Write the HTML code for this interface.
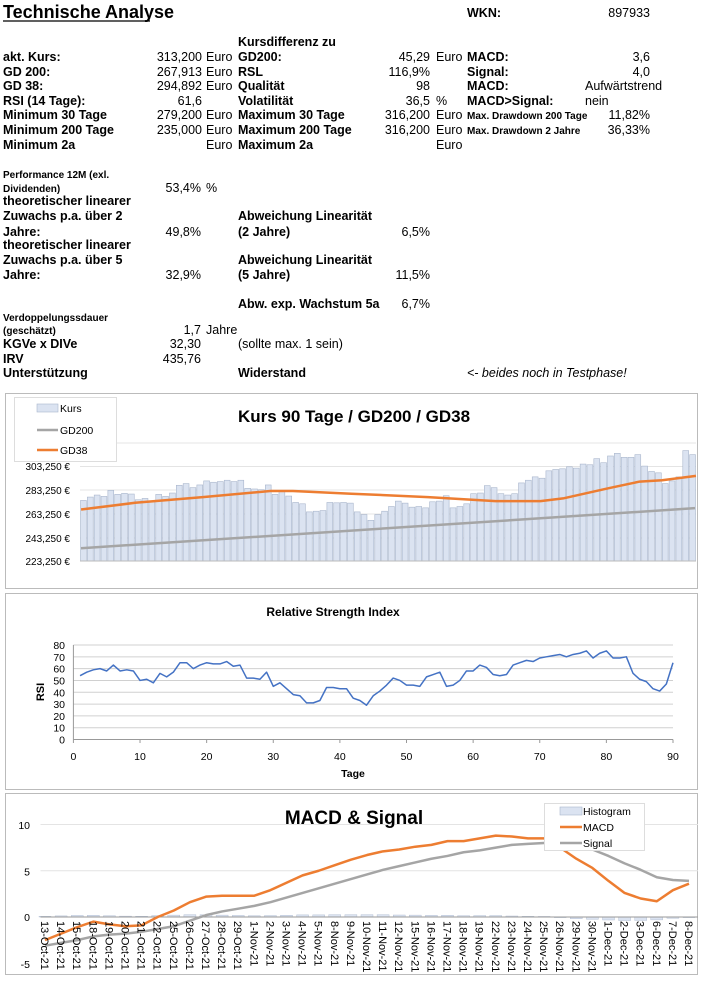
<!DOCTYPE html>
<html><head><meta charset="utf-8"><style>
html,body{margin:0;padding:0;background:#fff;}
svg{display:block;}
.t{font-family:"Liberation Sans Narrow","Liberation Sans",sans-serif;font-weight:bold;font-size:12.5px;fill:#000;}
.n{font-family:"Liberation Sans Narrow","Liberation Sans",sans-serif;font-size:12.5px;fill:#000;}
.s{font-family:"Liberation Sans Narrow","Liberation Sans",sans-serif;font-weight:bold;font-size:10px;fill:#000;}
.c{font-family:"Liberation Sans",sans-serif;font-size:10.5px;fill:#000;}
</style></head><body>
<svg id="g" width="706" height="998" xmlns="http://www.w3.org/2000/svg">
<text x="3" y="18" class="t" style="font-size:18px">Technische Analyse</text>
<line x1="3" y1="21" x2="150" y2="21" stroke="#000" stroke-width="1.3"/>
<text x="467" y="17" class="t">WKN:</text><text x="650" y="17" class="n" text-anchor="end">897933</text>
<text x="238" y="46" class="t">Kursdifferenz zu</text>
<g id="rows"></g>
<text x="3" y="178" class="s">Performance 12M (exl.</text>
<text x="3" y="192" class="s">Dividenden)</text><text x="201" y="192" class="n" text-anchor="end">53,4%</text><text x="206" y="192" class="n">%</text>
<text x="3" y="205" class="t">theoretischer linearer</text>
<text x="3" y="220" class="t">Zuwachs p.a. über 2</text><text x="238" y="220" class="t">Abweichung Linearität</text>
<text x="3" y="236" class="t">Jahre:</text><text x="201" y="236" class="n" text-anchor="end">49,8%</text><text x="238" y="236" class="t">(2 Jahre)</text><text x="430" y="236" class="n" text-anchor="end">6,5%</text>
<text x="3" y="249" class="t">theoretischer linearer</text>
<text x="3" y="264" class="t">Zuwachs p.a. über 5</text><text x="238" y="264" class="t">Abweichung Linearität</text>
<text x="3" y="279" class="t">Jahre:</text><text x="201" y="279" class="n" text-anchor="end">32,9%</text><text x="238" y="279" class="t">(5 Jahre)</text><text x="430" y="279" class="n" text-anchor="end">11,5%</text>
<text x="238" y="308" class="t">Abw. exp. Wachstum 5a</text><text x="430" y="308" class="n" text-anchor="end">6,7%</text>
<text x="3" y="321" class="s">Verdoppelungssdauer</text>
<text x="3" y="334" class="s">(geschätzt)</text><text x="201" y="334" class="n" text-anchor="end">1,7</text><text x="206" y="334" class="n">Jahre</text>
<text x="3" y="348" class="t">KGVe x DIVe</text><text x="201" y="348" class="n" text-anchor="end">32,30</text><text x="238" y="348" class="n">(sollte max. 1 sein)</text>
<text x="3" y="363" class="t">IRV</text><text x="201" y="363" class="n" text-anchor="end">435,76</text>
<text x="3" y="377" class="t">Unterstützung</text><text x="238" y="377" class="t">Widerstand</text>
<text x="467" y="377" class="n" font-style="italic">&lt;- beides noch in Testphase!</text>

<rect x="5.5" y="393.5" width="692" height="195" fill="#fff" stroke="#bbb"/>
<g id="c1"></g>
<text x="354" y="422" text-anchor="middle" style="font-family:'Liberation Sans',sans-serif;font-weight:bold;font-size:17px">Kurs 90 Tage / GD200 / GD38</text>
<rect x="14.5" y="397.5" width="102" height="64" fill="#fff" stroke="#ddd"/>
<rect x="37" y="404" width="21" height="8" fill="#dbe3f1" stroke="#a9b6cc" stroke-width="0.6"/>
<text x="60" y="412" class="c">Kurs</text>
<line x1="37" y1="430" x2="58" y2="430" stroke="#a5a5a5" stroke-width="2.5"/><text x="60" y="434" class="c">GD200</text>
<line x1="37" y1="450" x2="58" y2="450" stroke="#ed7d31" stroke-width="2.5"/><text x="60" y="454" class="c">GD38</text>

<rect x="5.5" y="593.5" width="692" height="196" fill="#fff" stroke="#bbb"/>
<text x="333" y="616" text-anchor="middle" style="font-family:'Liberation Sans',sans-serif;font-weight:bold;font-size:12px">Relative Strength Index</text>
<g id="c2"></g>
<text x="353" y="777" text-anchor="middle" style="font-family:'Liberation Sans',sans-serif;font-weight:bold;font-size:10.5px">Tage</text>
<text transform="translate(44,692) rotate(-90)" text-anchor="middle" style="font-family:'Liberation Sans',sans-serif;font-weight:bold;font-size:11px">RSI</text>

<rect x="5.5" y="793.5" width="692" height="181" fill="#fff" stroke="#bbb"/>
<defs><clipPath id="cp"><rect x="0" y="0" width="706" height="974"/></clipPath></defs>
<g id="c3" clip-path="url(#cp)"></g>
<text x="354" y="824" text-anchor="middle" style="font-family:'Liberation Sans',sans-serif;font-weight:bold;font-size:19px">MACD &amp; Signal</text>
<rect x="544.5" y="803.5" width="100" height="47" fill="#fff" stroke="#ddd"/>
<rect x="560" y="807" width="22" height="8" fill="#dbe3f1" stroke="#a9b6cc" stroke-width="0.6"/><text x="583" y="815" class="c">Histogram</text>
<line x1="560" y1="827" x2="582" y2="827" stroke="#ed7d31" stroke-width="2.5"/><text x="583" y="831" class="c">MACD</text>
<line x1="560" y1="843" x2="582" y2="843" stroke="#a5a5a5" stroke-width="2.5"/><text x="583" y="847" class="c">Signal</text>
</svg>
<script>
const NS="http://www.w3.org/2000/svg";
function el(p,tag,a,txt){const e=document.createElementNS(NS,tag);for(const k in a)e.setAttribute(k,a[k]);if(txt!==undefined)e.textContent=txt;p.appendChild(e);return e;}
const R=document.getElementById('rows');
const rows=[
[57,"akt. Kurs:","313,200","Euro","GD200:","45,29","Euro","MACD:","3,6",0],
[72,"GD 200:","267,913","Euro","RSL","116,9%","","Signal:","4,0",0],
[86,"GD 38:","294,892","Euro","Qualität","98","","MACD:","Aufwärtstrend",1],
[101,"RSI (14 Tage):","61,6","","Volatilität","36,5","%","MACD>Signal:","nein",1],
[115,"Minimum 30 Tage","279,200","Euro","Maximum 30 Tage","316,200","Euro","Max. Drawdown 200 Tage","11,82%",2],
[130,"Minimum 200 Tage","235,000","Euro","Maximum 200 Tage","316,200","Euro","Max. Drawdown 2 Jahre","36,33%",2],
[145,"Minimum 2a","","Euro","Maximum 2a","","Euro","","",0]];
rows.forEach(r=>{const y=r[0]+4;
el(R,'text',{x:3,y:y,'class':'t'},r[1]);
el(R,'text',{x:202,y:y,'class':'n','text-anchor':'end'},r[2]);
el(R,'text',{x:206,y:y,'class':'n'},r[3]);
el(R,'text',{x:238,y:y,'class':'t'},r[4]);
el(R,'text',{x:430,y:y,'class':'n','text-anchor':'end'},r[5]);
el(R,'text',{x:436,y:y,'class':'n'},r[6]);
el(R,'text',{x:467,y:y,'class':r[9]==2?'s':'t'},r[7]);
if(r[9]==1)el(R,'text',{x:585,y:y,'class':'n'},r[8]);else el(R,'text',{x:650,y:y,'class':'n','text-anchor':'end'},r[8]);
});
const C1=document.getElementById('c1');
const zy=[328,318,312,316,298,310,307,309,326,322,330,310,316,306,283,278,290,282,270,274,272,268,272,268,292,294,296,282,310,302,315,334,338,362,360,358,334,335,334,336,362,370,387,370,360,346,330,336,348,346,350,332,330,314,350,346,338,308,306,284,290,308,312,308,276,268,258,262,240,236,234,228,232,220,222,204,216,196,188,200,200,192,226,242,246,278,270,258,180,192];
const x0=80,x1=696,bw=(x1-x0)/90;
[443,466.5,490,514,538].forEach(y=>el(C1,'line',{x1:x0,x2:x1,y1:y,y2:y,stroke:'#e4e4e4'}));
zy.forEach((z,i)=>{const y=390+z/2.97;el(C1,'rect',{x:x0+i*bw+0.5,y:y,width:bw-1,height:561-y,fill:'#dbe3f1',stroke:'#a9b6cc','stroke-width':0.6});});
el(C1,'line',{x1:x0,x2:x1,y1:561,y2:561,stroke:'#bbb'});
[["303,250 €",466],["283,250 €",490],["263,250 €",514],["243,250 €",538],["223,250 €",561]].forEach(a=>el(C1,'text',{x:70,y:a[1]+4,'class':'c','text-anchor':'end',style:'font-size:10px'},a[0]));
const g38=[[180,355],[300,335],[450,318],[600,300],[650,300],[780,308],[950,318],[1100,330],[1200,330],[1250,322],[1350,292],[1420,272],[1470,268],[1545,255]];
el(C1,'polyline',{points:g38.map(p=>(p[0]/2.22)+','+(390+p[1]/2.97)).join(' '),fill:'none',stroke:'#ed7d31','stroke-width':2.5,'stroke-linejoin':'round'});
el(C1,'line',{x1:81,y1:390+470/2.97,x2:695,y2:390+351/2.97,stroke:'#a5a5a5','stroke-width':2.5});
const C2=document.getElementById('c2');
const rsi=[54,57,59,60,58,63,58,59,58,50,51,48,56,53,57,65,65,60,63,65,64,64,66,62,63,52,52,51,57,45,48,43,38,37,31,31,33,44,44,43,43,35,33,29,37,41,46,52,50,46,46,45,53,55,57,45,46,50,58,58,63,61,55,54,55,63,65,67,66,69,70,71,72,70,72,73,75,69,73,75,69,69,70,56,51,49,43,41,47,65];
const rx=v=>73.4+v*(673-73.4)/90, ry=v=>739.5-v*94.5/80;
for(let v=10;v<=80;v+=10)el(C2,'line',{x1:73.4,x2:673,y1:ry(v),y2:ry(v),stroke:'#d0d0d0'});
el(C2,'line',{x1:73.4,x2:673,y1:739.5,y2:739.5,stroke:'#999'});
el(C2,'line',{x1:73.4,x2:73.4,y1:ry(80),y2:739.5,stroke:'#999'});
for(let v=0;v<=80;v+=10)el(C2,'text',{x:65,y:ry(v)+4,'class':'c','text-anchor':'end',style:'font-size:10.5px'},v);
for(let v=0;v<=90;v+=10){el(C2,'line',{x1:rx(v),x2:rx(v),y1:739.5,y2:743,stroke:'#999'});el(C2,'text',{x:rx(v),y:760,'class':'c','text-anchor':'middle'},v);}
el(C2,'polyline',{points:rsi.map((v,i)=>rx(i+1)+','+ry(v)).join(' '),fill:'none',stroke:'#4472c4','stroke-width':1.5,'stroke-linejoin':'round'});
const C3=document.getElementById('c3');
const my=v=>917-v*9.25;
const mx=i=>45+i*16.1;
[10,5].forEach(v=>el(C3,'line',{x1:40.5,x2:698,y1:my(v),y2:my(v),stroke:'#e4e4e4'}));
[[10,825],[5,871.5],[0,917],[-5,964]].forEach(a=>el(C3,'text',{x:30,y:a[1]+4,'class':'c','text-anchor':'end'},a[0]));
const macd=[-2.5,-1.8,-1.1,-0.5,-0.8,-1.0,-0.9,0,0.7,1.6,2.2,2.3,2.3,2.3,2.9,3.7,4.5,5.0,5.6,6.2,6.7,7.1,7.3,7.6,7.8,8.2,8.2,8.5,8.8,8.7,8.5,8.5,7.5,6.3,5.3,3.9,2.6,2.0,1.7,2.9,3.6];
const sig=[-3.1,-2.8,-2.5,-2.1,-1.9,-1.8,-1.6,-1.3,-1.0,-0.4,0.2,0.6,0.9,1.2,1.6,2.1,2.6,3.1,3.6,4.1,4.6,5.1,5.5,5.9,6.3,6.6,7.0,7.2,7.5,7.8,7.9,8.0,8.0,7.8,7.3,6.6,5.8,5.1,4.3,4.0,3.9];
macd.forEach((m,i)=>{const h=(m-sig[i])*0.12;const y=my(Math.max(h,0)),y2=my(Math.min(h,0));el(C3,'rect',{x:mx(i)-6,y:y,width:12,height:Math.max(0.6,y2-y),fill:'#dbe3f1',stroke:'#a9b6cc','stroke-width':0.4});});
el(C3,'line',{x1:40.5,x2:698,y1:917,y2:917,stroke:'#999'});
el(C3,'polyline',{points:sig.map((v,i)=>mx(i)+','+my(v)).join(' '),fill:'none',stroke:'#a5a5a5','stroke-width':2.5,'stroke-linejoin':'round'});
el(C3,'polyline',{points:macd.map((v,i)=>mx(i)+','+my(v)).join(' '),fill:'none',stroke:'#ed7d31','stroke-width':2.5,'stroke-linejoin':'round'});
const d=[];[13,14,15,18,19,20,21,22,25,26,27,28,29].forEach(n=>d.push(n+'-Oct-21'));
[1,2,3,4,5,8,9,10,11,12,15,16,17,18,19,22,23,24,25,26,29,30].forEach(n=>d.push(n+'-Nov-21'));
[1,2,3,6,7,8].forEach(n=>d.push(n+'-Dec-21'));
d.forEach((t,i)=>el(C3,'text',{transform:'translate('+(mx(i)-4)+',921) rotate(90)','class':'c',style:'font-size:11px'},t));
</script>
</body></html>
